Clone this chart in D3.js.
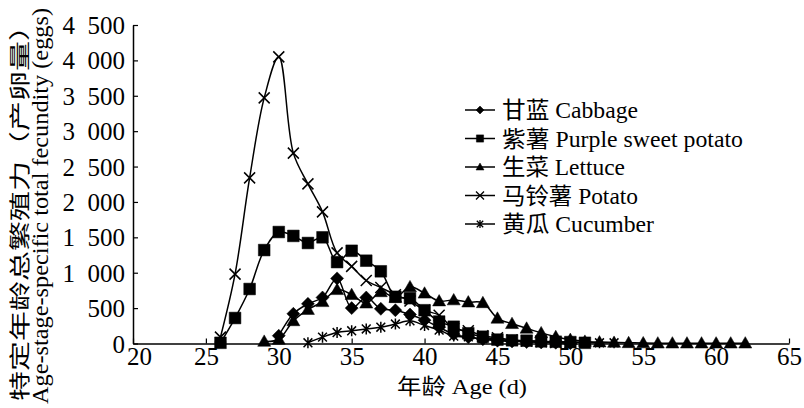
<!DOCTYPE html>
<html>
<head>
<meta charset="utf-8">
<script src="https://cdn.jsdelivr.net/npm/d3@7"></script>
<style>
  body { margin: 0; background: #fff; }
  text { font-family: "Times New Roman", "Liberation Serif", "Noto Sans CJK SC", serif; fill: #000; }
</style>
</head>
<body>
<div id="chart"></div>
<script>
// Data
const cabbageAge = [30, 31, 32, 33, 34, 35, 36, 37, 38, 39, 40, 41, 42, 43, 44, 45, 46, 47, 48, 49, 50];
const cabbageVal = [110, 420, 560, 650, 920, 500, 650, 490, 470, 410, 330, 230, 130, 90, 60, 40, 30, 20, 15, 10, 5];

const purpleAge = [26, 27, 28, 29, 30, 31, 32, 33, 34, 35, 36, 37, 38, 39, 40, 41, 42, 43, 44, 45, 46, 47, 48, 49, 50, 51];
const purpleVal = [10, 360, 770, 1320, 1575, 1520, 1420, 1500, 1150, 1310, 1170, 1020, 660, 640, 470, 310, 237, 144, 96, 55, 45, 40, 30, 25, 20, 10];

const lettuceAge = [29, 30, 31, 32, 33, 34, 35, 36, 37, 38, 39, 40, 41, 42, 43, 44, 45, 46, 47, 48, 49, 50, 51, 52, 53, 54, 55, 56, 57, 58, 59, 60, 61, 62];
const lettuceVal = [30, 60, 320, 480, 590, 760, 690, 570, 730, 650, 800, 710, 600, 615, 585, 575, 356, 280, 215, 150, 96, 55, 30, 20, 15, 10, 8, 5, 5, 5, 5, 5, 5, 5];

const potatoAge = [26, 27, 28, 29, 30, 31, 32, 33, 34, 35, 36, 37, 38, 39, 40, 41, 42, 43, 44, 45, 46, 47, 48, 49, 50];
const potatoVal = [90, 980, 2340, 3470, 4050, 2690, 2255, 1860, 1280, 1090, 890, 790, 690, 600, 470, 400, 210, 180, 110, 80, 50, 35, 25, 15, 10];

const cucumberAge = [32, 33, 34, 35, 36, 37, 38, 39, 40, 41, 42, 43, 44, 45, 46, 47, 48, 49, 50, 51, 52, 53];
const cucumberVal = [10, 90, 155, 180, 205, 230, 275, 320, 255, 190, 105, 95, 65, 50, 40, 35, 30, 25, 20, 15, 10, 10];

const seriesNames = ['甘蓝 Cabbage', '紫薯 Purple sweet potato', '生菜 Lettuce', '马铃薯 Potato', '黄瓜 Cucumber'];
const seriesMarkers = ['diamond', 'square', 'triangle', 'cross', 'star'];
const xTicks = [20, 25, 30, 35, 40, 45, 50, 55, 60, 65];
const yTicks = [0, 500, 1000, 1500, 2000, 2500, 3000, 3500, 4000, 4500];

const series = [
    { age: cabbageAge, val: cabbageVal },
    { age: purpleAge, val: purpleVal },
    { age: lettuceAge, val: lettuceVal },
    { age: potatoAge, val: potatoVal },
    { age: cucumberAge, val: cucumberVal },
].map((s, i) => ({
    name: seriesNames[i],
    marker: seriesMarkers[i],
    points: s.age.map((a, j) => ({ age: a, val: s.val[j] })),
}));

// Dimensions
const dimensions = {
    width: 804,
    height: 408,
    margin: { top: 25, bottom: 64.5, left: 133, right: 15 },
};
dimensions.ctrWidth = dimensions.width - dimensions.margin.left - dimensions.margin.right;
dimensions.ctrHeight = dimensions.height - dimensions.margin.top - dimensions.margin.bottom;

const svg = d3.select('#chart')
    .append('svg')
    .attr('width', dimensions.width)
    .attr('height', dimensions.height);

const ctr = svg.append('g')
    .attr('transform', `translate(${dimensions.margin.left}, ${dimensions.margin.top})`);

// Scales
const xScale = d3.scaleLinear().domain([20, 65]).range([0, dimensions.ctrWidth]);
const yScale = d3.scaleLinear().domain([0, 4500]).range([dimensions.ctrHeight, 0]);

// marker shapes
function markerPath(type, s) {
    const p = d3.path();
    if (type === 'diamond') {
        p.moveTo(0, -s); p.lineTo(s, 0); p.lineTo(0, s); p.lineTo(-s, 0); p.closePath();
    } else if (type === 'square') {
        const h = s * 0.9;
        p.rect(-h, -h, 2 * h, 2 * h);
    } else if (type === 'triangle') {
        p.moveTo(0, -s); p.lineTo(s, s * 0.75); p.lineTo(-s, s * 0.75); p.closePath();
    } else if (type === 'cross') {
        p.moveTo(-s, -s); p.lineTo(s, s); p.moveTo(s, -s); p.lineTo(-s, s);
    } else {
        const k = s * 0.8;
        p.moveTo(-k, -k); p.lineTo(k, k); p.moveTo(k, -k); p.lineTo(-k, k);
        p.moveTo(0, -s); p.lineTo(0, s);
    }
    return p.toString();
}
const isFilled = (t) => t === 'diamond' || t === 'square' || t === 'triangle';

// Lines
const line = d3.line()
    .x(d => xScale(d.age))
    .y(d => yScale(d.val))
    .curve(d3.curveCatmullRom.alpha(0.5));

const groups = ctr.selectAll('g.series')
    .data(series)
    .join('g')
    .attr('class', 'series');

groups.append('path')
    .attr('d', d => line(d.points))
    .attr('fill', 'none')
    .attr('stroke', '#000')
    .attr('stroke-width', 1.5);

groups.each(function (s) {
    d3.select(this).selectAll('path.mk')
        .data(s.points)
        .join('path')
        .attr('class', 'mk')
        .attr('transform', d => `translate(${xScale(d.age)}, ${yScale(d.val)})`)
        .attr('d', markerPath(s.marker, s.marker === 'cross' || s.marker === 'star' ? 5.5 : 6.5))
        .attr('fill', isFilled(s.marker) ? '#000' : 'none')
        .attr('stroke', '#000')
        .attr('stroke-width', isFilled(s.marker) ? 0.5 : 1.5);
});

// Axes
const xAxis = d3.axisBottom(xScale)
    .tickValues(xTicks)
    .tickSizeInner(-5)
    .tickSizeOuter(0)
    .tickPadding(4);
const yAxis = d3.axisLeft(yScale)
    .tickValues(yTicks)
    .tickSizeInner(-5)
    .tickSizeOuter(0)
    .tickPadding(8)
    .tickFormat(d => d >= 1000 ? d3.format(',')(d).replace(',', '\u2002') : d);

const xAxisGroup = ctr.append('g')
    .attr('transform', `translate(0, ${dimensions.ctrHeight})`)
    .call(xAxis);
const yAxisGroup = ctr.append('g').call(yAxis);

[xAxisGroup, yAxisGroup].forEach(g => {
    g.select('.domain').attr('stroke', '#000').attr('stroke-width', 1.5);
    g.selectAll('.tick line').attr('stroke', '#000').attr('stroke-width', 1.2);
    g.selectAll('.tick text')
        .style('font-family', '"Times New Roman", "Liberation Serif", serif')
        .style('font-size', '25px')
        .attr('fill', '#000');
});
xAxisGroup.selectAll('.tick text').attr('dy', '0.71em');
// first x label sits a little right of its tick, clear of the y "0"
xAxisGroup.selectAll('.tick text').filter(d => d === 20).attr('dx', 6);
yAxisGroup.selectAll('.tick text').attr('dy', '0.34em');

// Axis titles
svg.append('text')
    .attr('x', 462)
    .attr('y', 394)
    .attr('text-anchor', 'middle')
    .attr('textLength', 130)
    .attr('lengthAdjust', 'spacingAndGlyphs')
    .style('font-size', '22px')
    .text('年龄 Age (d)');

svg.append('text')
    .attr('transform', 'translate(27, 206) rotate(-90)')
    .attr('text-anchor', 'middle')
    .attr('textLength', 390)
    .attr('lengthAdjust', 'spacingAndGlyphs')
    .style('font-size', '21px')
    .text('特定年龄总繁殖力（产卵量）');

svg.append('text')
    .attr('transform', 'translate(48, 206) rotate(-90)')
    .attr('text-anchor', 'middle')
    .attr('textLength', 396)
    .attr('lengthAdjust', 'spacingAndGlyphs')
    .style('font-size', '23px')
    .text('Age-stage-specific total fecundity (eggs)');

// Legend
const legendWidths = [136, 241, 123, 136, 152];
const legend = svg.append('g')
    .selectAll('g')
    .data(series)
    .join('g')
    .attr('transform', (d, i) => `translate(465, ${110 + i * 28.5})`);

legend.append('line')
    .attr('x1', 0).attr('x2', 30)
    .attr('stroke', '#000')
    .attr('stroke-width', 1.5);

legend.append('path')
    .attr('transform', 'translate(15, 0)')
    .attr('d', d => markerPath(d.marker, 4))
    .attr('fill', d => isFilled(d.marker) ? '#000' : 'none')
    .attr('stroke', '#000')
    .attr('stroke-width', d => isFilled(d.marker) ? 0.5 : 1.3);

legend.append('text')
    .attr('x', 37)
    .attr('dy', '0.36em')
    .attr('textLength', (d, i) => legendWidths[i])
    .attr('lengthAdjust', 'spacingAndGlyphs')
    .style('font-size', '23px')
    .text(d => d.name);
</script>
</body>
</html>
